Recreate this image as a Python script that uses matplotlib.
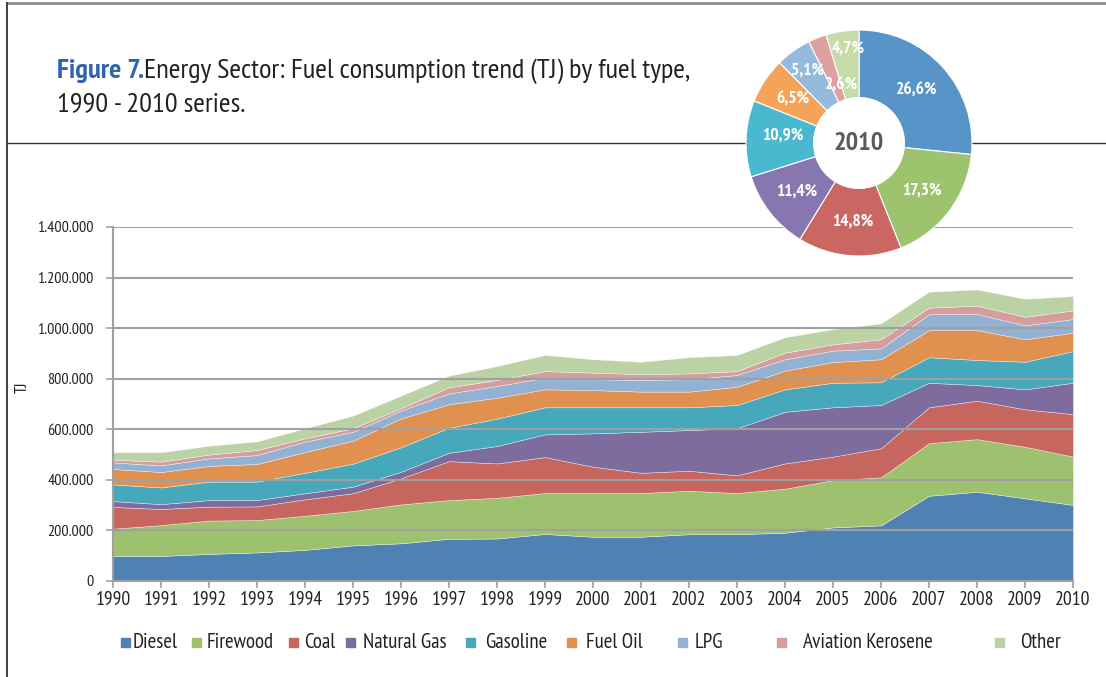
import numpy as np
import matplotlib.pyplot as plt
from matplotlib.lines import Line2D
from matplotlib.patches import Rectangle
from matplotlib.ticker import FuncFormatter, MultipleLocator

W, H = 1106, 677
NARROW = ['PT Sans Narrow', 'DejaVu Sans']

# Fuel consumption, thousand TJ
years = list(range(1990, 2011))
fuels = ["Diesel", "Firewood", "Coal", "Natural Gas", "Gasoline",
         "Fuel Oil", "LPG", "Aviation Kerosene", "Other"]

diesel = [99, 99, 107, 113, 123, 141, 149, 167, 168, 186, 175,
          175, 185, 185, 191, 212, 220, 337, 353, 327, 301]
firewood = [108, 122, 132, 128, 135, 136, 154, 153, 161, 162, 173,
            173, 172, 163, 174, 187, 190, 208, 208, 204, 191]
coal = [86, 64, 55, 54, 65, 70, 103, 154, 136, 142, 104,
        80, 79, 70, 100, 93, 115, 142, 152, 148, 168]
natural_gas = [23, 19, 26, 25, 24, 26, 26, 33, 69, 90, 132,
               162, 161, 186, 204, 195, 171, 97, 62, 79, 124]
gasoline = [66, 66, 73, 73, 81, 91, 97, 99, 108, 107, 103,
            97, 90, 92, 89, 97, 90, 101, 99, 109, 125]
fuel_oil = [61, 61, 62, 70, 82, 91, 114, 93, 83, 71, 68,
            62, 62, 72, 74, 82, 91, 107, 118, 89, 73]
lpg = [26, 26, 30, 35, 41, 35, 31, 43, 46, 46, 43,
       46, 49, 47, 45, 45, 43, 63, 64, 55, 54]
aviation = [11, 15, 15, 20, 13, 14, 9, 24, 24, 26, 26,
            23, 23, 15, 26, 25, 36, 26, 33, 34, 34]
other = [29, 37, 35, 34, 40, 50, 50, 46, 55, 64, 53,
         49, 64, 64, 61, 60, 63, 63, 64, 71, 57]

# 2010 shares (%)
shares_2010 = [26.6, 17.3, 14.8, 11.4, 10.9, 6.5, 5.1, 2.6, 4.7]

area_colors = ["#4F81B3", "#9EC170", "#C7655F", "#7F6C9F", "#47A7BB",
               "#E0914F", "#93B1D3", "#D59E9D", "#BAD2A4"]
pie_colors = ["#5894C8", "#9DC36E", "#CB6763", "#8876B1", "#4AB8CE",
              "#F6A35A", "#94BADC", "#DE9F9F", "#C5DCA9"]


def fx(x):
    return x / W


def fy(y):
    return 1 - y / H


fig = plt.figure(figsize=(W / 100, H / 100), dpi=100)

# page frame lines
fig.add_artist(Line2D([fx(7), 1], [fy(3), fy(3)], color='#8c8c8c', lw=2, zorder=1))
fig.add_artist(Line2D([fx(7), fx(7)], [fy(3), 0], color='#333333', lw=1.3, zorder=1))
fig.add_artist(Line2D([fx(7), 1], [fy(143), fy(143)], color='#333333', lw=1, zorder=1))

# title: blue bold prefix, then the rest right after it
t1 = fig.text(fx(57), fy(71), "Figure 7.", color='#2E63AE', fontsize=20.5,
              fontweight='bold', family=NARROW, va='center', ha='left')
fig.canvas.draw()
x_end = t1.get_window_extent().x1 / fig.dpi / fig.get_figwidth()
fig.text(x_end, fy(71), "Energy Sector: Fuel consumption trend (TJ) by fuel type,",
         color='#222222', fontsize=20.5, family=NARROW, va='center', ha='left')
fig.text(fx(57), fy(104), "1990 - 2010 series.", color='#222222', fontsize=20.5,
         family=NARROW, va='center', ha='left')

# main stacked area chart
ax = fig.add_axes([fx(113), fy(581), (1073 - 113) / W, (581 - 227) / H])
ax.set_facecolor('none')
series = [np.array(s) * 1000 for s in [diesel, firewood, coal, natural_gas, gasoline,
                                        fuel_oil, lpg, aviation, other]]
ax.stackplot(years, *series, colors=area_colors, labels=fuels,
             edgecolor=(1, 1, 1, 0.6), linewidth=0.4)
ax.set_xlim(1990, 2010)
ax.set_ylim(0, 1400000)
ax.set_xticks(years)
ax.yaxis.set_major_locator(MultipleLocator(200000))
ax.yaxis.set_major_formatter(FuncFormatter(lambda v, p: f"{int(v):,}".replace(',', '.')))
ax.set_axisbelow(False)
ax.grid(axis='y', color='#A0A0A0', lw=1.5)
for s in ['top', 'right']:
    ax.spines[s].set_visible(False)
for s in ['left', 'bottom']:
    ax.spines[s].set_color('#A0A0A0')
    ax.spines[s].set_linewidth(1.5)
ax.tick_params(axis='both', colors='#A0A0A0', length=5, width=1.2, labelcolor='#222222')
ax.tick_params(axis='x', labelsize=14, pad=2)
ax.tick_params(axis='y', labelsize=11.5, pad=9)
for lbl in ax.get_xticklabels() + ax.get_yticklabels():
    lbl.set_family(NARROW)
fig.text(fx(23), fy(387), "TJ", rotation=90, fontsize=12, family=NARROW,
         color='#222222', va='center', ha='center')

# legend, drawn by hand to keep the uneven spacing
marker_x = [125, 196, 293, 350, 470, 571, 682, 781, 999]
text_x = [133, 207, 304, 363, 485, 586, 695, 803, 1020]
for name, col, mx, tx in zip(fuels, area_colors, marker_x, text_x):
    fig.add_artist(Rectangle((fx(mx - 4), fy(647)), 9 / W, 9 / H, color=col,
                             transform=fig.transFigure))
    fig.text(fx(tx), fy(642), name, fontsize=15, color='#222222', family=NARROW,
             va='center', ha='left')

# 2010 donut
pax = fig.add_axes([fx(746), fy(256), 226 / W, 226 / H], zorder=3)
pax.set_facecolor('none')
wedges, _ = pax.pie(shares_2010, colors=pie_colors, startangle=90, counterclock=False,
                    radius=1, wedgeprops=dict(width=0.6, edgecolor='white', linewidth=0.8))
pax.set_xlim(-1, 1)
pax.set_ylim(-1, 1)
pax.set_aspect('equal')
pax.axis('off')
pax.add_patch(plt.Circle((0, 0), 0.4, color='white'))
label_r = [0.69, 0.70, 0.70, 0.70, 0.68, 0.70, 0.79, 0.53, 0.84]
label_shift = [0, 0, 0, 0, -3, 0, 0, -5, -2]
for w, v, r, sh in zip(wedges, shares_2010, label_r, label_shift):
    ang = np.deg2rad((w.theta1 + w.theta2) / 2 + sh)
    pax.text(r * np.cos(ang), r * np.sin(ang), f"{v:.1f}".replace('.', ',') + '%',
             color='white', fontsize=12.5, fontweight='bold', family=NARROW,
             ha='center', va='center')
pax.text(0, 0, "2010", color='#5A5A5A', fontsize=19, fontweight='bold',
         family=NARROW, ha='center', va='center')

fig.savefig('out.png', dpi=100)
